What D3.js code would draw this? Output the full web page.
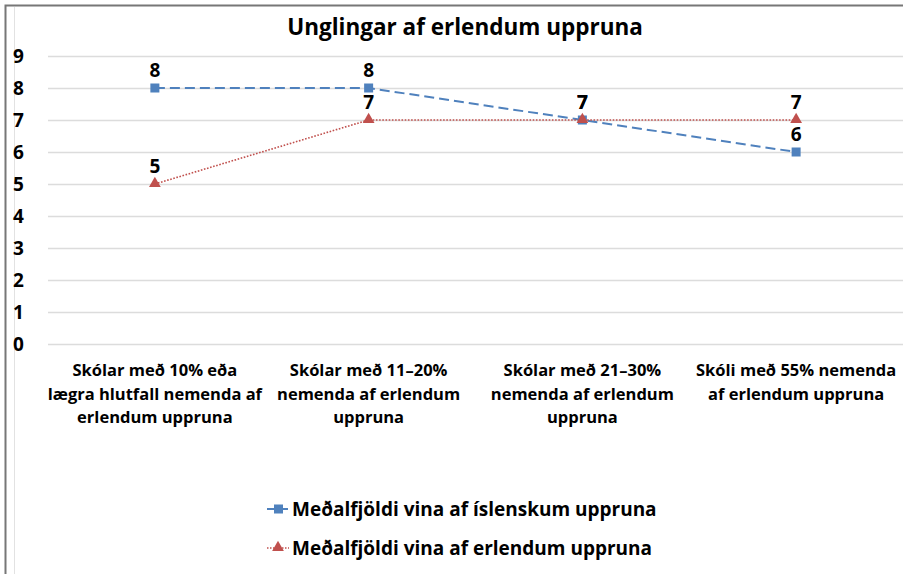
<!DOCTYPE html>
<html>
<head>
<meta charset="utf-8">
<script src="https://d3js.org/d3.v7.min.js"></script>
<style>
body { margin: 0; background: #fff; }
text { font-family: "Open Sans", "Noto Sans", sans-serif; font-weight: bold; fill: #000; }
</style>
</head>
<body>
<div id="chart"></div>
<script>
var width = 903;
var height = 574;

var title = "Unglingar af erlendum uppruna";
var categories = [
  ["Skólar með 10% eða", "lægra hlutfall nemenda af", "erlendum uppruna"],
  ["Skólar með 11–20%", "nemenda af erlendum", "uppruna"],
  ["Skólar með 21–30%", "nemenda af erlendum", "uppruna"],
  ["Skóli með 55% nemenda", "af erlendum uppruna"]
];
var seriesNames = ["Meðalfjöldi vina af íslenskum uppruna", "Meðalfjöldi vina af erlendum uppruna"];
var islenskum = [8, 8, 7, 6];
var erlendum = [5, 7, 7, 7];
var yTicks = [0, 1, 2, 3, 4, 5, 6, 7, 8, 9];

var colors = ["#4F81BD", "#C0504D"];

var svg = d3.select("#chart")
  .append("svg")
  .attr("width", width)
  .attr("height", height);

// outer frame
svg.append("rect")
  .attr("x", 5.5).attr("y", 5.5)
  .attr("width", width + 10).attr("height", height + 10)
  .attr("fill", "none")
  .attr("stroke", "#777")
  .attr("stroke-width", 2);
svg.append("line")
  .attr("x1", 14.5).attr("x2", 14.5)
  .attr("y1", 7).attr("y2", height)
  .attr("stroke", "#e2e2e2");

var x = d3.scaleBand()
  .domain(d3.range(categories.length))
  .range([48, 903]);

var y = d3.scaleLinear()
  .domain([0, 9])
  .range([344, 56]);

// title
svg.append("text")
  .attr("x", 465)
  .attr("y", 35)
  .attr("text-anchor", "middle")
  .style("font-size", "22.5px")
  .text(title);

// gridlines
svg.append("g")
  .selectAll("line")
  .data(yTicks)
  .enter().append("line")
  .attr("x1", 48).attr("x2", 903)
  .attr("y1", function(d) { return y(d) + 0.5; })
  .attr("y2", function(d) { return y(d) + 0.5; })
  .attr("stroke", "#dcdcdc")
  .attr("stroke-width", 1.5);

// y tick labels
svg.append("g")
  .selectAll("text")
  .data(yTicks)
  .enter().append("text")
  .attr("x", 13)
  .attr("y", function(d) { return y(d) + 7; })
  .style("font-size", "19px")
  .text(function(d) { return d; });

// x labels
var xl = svg.append("g")
  .selectAll("text")
  .data(categories)
  .enter().append("text")
  .attr("text-anchor", "middle")
  .attr("x", function(d, i) { return x(i) + x.bandwidth() / 2; })
  .attr("y", 376)
  .style("font-size", "16.5px");
xl.selectAll("tspan")
  .data(function(d) { return d; })
  .enter().append("tspan")
  .attr("x", function() { return d3.select(this.parentNode).attr("x"); })
  .attr("dy", function(d, i) { return i === 0 ? 0 : 23.5; })
  .text(function(d) { return d; });

var cx = function(d, i) { return x(i) + x.bandwidth() / 2; };

var line = d3.line()
  .x(cx)
  .y(function(d) { return y(d); });

// series 1: blue dashed, squares
svg.append("path")
  .datum(islenskum)
  .attr("d", line)
  .attr("fill", "none")
  .attr("stroke", colors[0])
  .attr("stroke-width", 2)
  .attr("stroke-dasharray", "10,5");

// series 2: red dotted, triangles
svg.append("path")
  .datum(erlendum)
  .attr("d", line)
  .attr("fill", "none")
  .attr("stroke", colors[1])
  .attr("stroke-width", 1.6)
  .attr("stroke-dasharray", "1.6,1.6");

svg.append("g")
  .selectAll("rect")
  .data(islenskum)
  .enter().append("rect")
  .attr("x", function(d, i) { return cx(d, i) - 4.5; })
  .attr("y", function(d) { return y(d) - 4.5; })
  .attr("width", 9).attr("height", 9)
  .attr("fill", colors[0]);

var tri = d3.symbol().type(d3.symbolTriangle).size(60);
svg.append("g")
  .selectAll("path")
  .data(erlendum)
  .enter().append("path")
  .attr("d", tri)
  .attr("transform", function(d, i) { return "translate(" + cx(d, i) + "," + (y(d) - 0.5) + ")"; })
  .attr("fill", colors[1]);

// data labels
[islenskum, erlendum].forEach(function(s) {
  svg.append("g")
    .selectAll("text")
    .data(s)
    .enter().append("text")
    .attr("text-anchor", "middle")
    .attr("x", cx)
    .attr("y", function(d) { return y(d) - 11.5; })
    .style("font-size", "19px")
    .text(function(d) { return d; });
});

// legend
var legendY = [509, 548];
var lg = svg.append("g")
  .selectAll("g")
  .data(seriesNames)
  .enter().append("g")
  .attr("transform", function(d, i) { return "translate(0," + legendY[i] + ")"; });

lg.append("line")
  .attr("x1", 267).attr("x2", 289)
  .attr("y1", 0).attr("y2", 0)
  .attr("stroke", function(d, i) { return colors[i]; })
  .attr("stroke-width", function(d, i) { return i === 0 ? 2 : 1.5; })
  .attr("stroke-dasharray", function(d, i) { return i === 0 ? "9,3" : "1.5,1.5"; });

lg.filter(function(d, i) { return i === 0; })
  .append("rect")
  .attr("x", 274).attr("y", -4.5)
  .attr("width", 9).attr("height", 9)
  .attr("fill", colors[0]);

lg.filter(function(d, i) { return i === 1; })
  .append("path")
  .attr("d", tri)
  .attr("transform", "translate(278,-0.5)")
  .attr("fill", colors[1]);

lg.append("text")
  .attr("x", 292)
  .attr("y", 6.5)
  .style("font-size", "19px")
  .text(function(d) { return d; });
</script>
</body>
</html>
